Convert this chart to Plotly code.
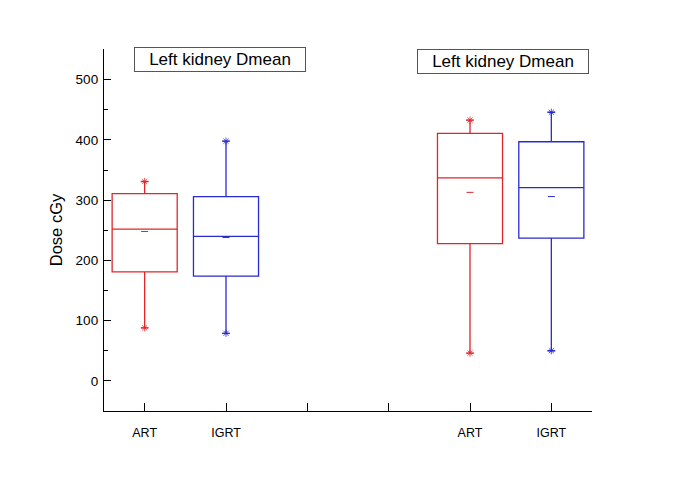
import plotly.graph_objects as go

# Data (Dose cGy)
positions = [1, 2, 3, 4, 5, 6]
tick_labels = ["ART", "IGRT", "", "", "ART", "IGRT"]

art_x = [1, 5]
art_min = [88, 46]
art_q1 = [181, 228]
art_median = [252, 337]
art_q3 = [311, 411]
art_max = [331, 433]
art_mean = [248, 313]

igrt_x = [2, 6]
igrt_min = [79, 50]
igrt_q1 = [174, 237]
igrt_median = [240, 321]
igrt_q3 = [306, 397]
igrt_max = [398, 446]
igrt_mean = [238, 306]

panel_title = "Left kidney Dmean"

RED = "#e0262a"
BLUE = "#2a2ad2"
FONT = "Liberation Sans, Arial, sans-serif"

fig = go.Figure()

for xs, mn, q1, md, q3, mx, mean, col in [
    (art_x, art_min, art_q1, art_median, art_q3, art_max, art_mean, RED),
    (igrt_x, igrt_min, igrt_q1, igrt_median, igrt_q3, igrt_max, igrt_mean, BLUE),
]:
    fig.add_trace(go.Box(
        x=xs, q1=q1, median=md, q3=q3, lowerfence=mn, upperfence=mx,
        width=0.8, whiskerwidth=0.12, boxpoints=False,
        line=dict(color=col, width=1.3), fillcolor="rgba(0,0,0,0)",
        showlegend=False, hoverinfo="skip",
    ))
    fig.add_trace(go.Scatter(
        x=xs, y=mean, mode="markers",
        marker=dict(symbol="line-ew-open", size=5, color=col, line=dict(width=1, color=col)),
        showlegend=False, hoverinfo="skip",
    ))
    fig.add_trace(go.Scatter(
        x=xs + xs, y=mn + mx, mode="markers",
        marker=dict(symbol="asterisk-open", size=6, color=col, line=dict(width=0.8, color=col)),
        showlegend=False, hoverinfo="skip",
    ))

fig.update_layout(
    width=685, height=494,
    margin=dict(l=96, r=101, t=41, b=91),
    paper_bgcolor="white", plot_bgcolor="white",
    font=dict(family=FONT, size=13, color="black"),
    xaxis=dict(
        range=[0.5, 6.5], tickvals=positions, ticktext=tick_labels,
        showgrid=False, zeroline=False, showline=True, linecolor="black", linewidth=1.3,
        ticks="inside", ticklen=8, tickwidth=1.3, tickcolor="black",
        ticklabelstandoff=10, tickfont=dict(size=12.5),
    ),
    yaxis=dict(
        range=[-50, 551], tickvals=[0, 100, 200, 300, 400, 500],
        showgrid=False, zeroline=False, showline=True, linecolor="black", linewidth=1.3,
        ticks="inside", ticklen=7, tickwidth=1.3, tickcolor="black",
        minor=dict(tickvals=[-50, 50, 150, 250, 350, 450, 550], ticks="inside", ticklen=4, tickcolor="black", tickwidth=1.3),
        title=dict(text="Dose cGy", font=dict(size=16.5), standoff=8),
        tickfont=dict(size=13.5), ticklabelstandoff=2,
    ),
    annotations=[
        dict(text=panel_title, xref="paper", yref="paper", x=0.2372, y=0.972,
             xanchor="center", yanchor="middle", showarrow=False,
             font=dict(size=17, family=FONT), bordercolor="#555", borderwidth=1,
             borderpad=2, width=166, height=19),
        dict(text=panel_title, xref="paper", yref="paper", x=0.818, y=0.9655,
             xanchor="center", yanchor="middle", showarrow=False,
             font=dict(size=17, family=FONT), bordercolor="#555", borderwidth=1,
             borderpad=2, width=166, height=19),
    ],
)

fig.write_html("out.html")
